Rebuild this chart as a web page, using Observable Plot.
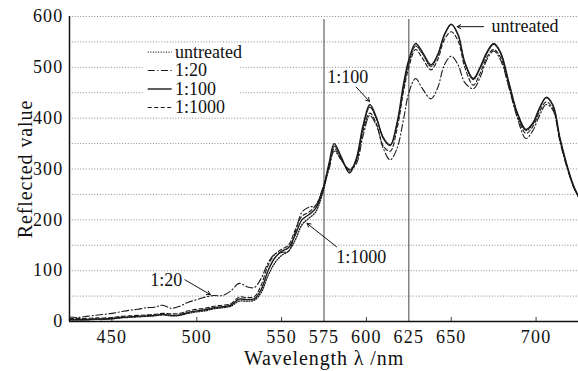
<!DOCTYPE html>
<html>
<head>
<meta charset="utf-8">
<script src="https://cdn.jsdelivr.net/npm/d3@7"></script>
<script src="https://cdn.jsdelivr.net/npm/@observablehq/plot@0.6"></script>
<style>
  html, body { margin: 0; padding: 0; background: #fff; }
</style>
</head>
<body>
<div id="chart"></div>
<script>
const wavelengths = [425,430,435,440,445,450,455,460,465,470,475,480,485,490,495,500,505,510,515,520,525,530,534,538,542,546,550,554,558,562,566,570,574,578,581,585,590,594,598,602,606,610,614,618,622,625,629,633,638,642,646,650,654,658,663,667,671,675,679,684,689,694,698,702,706,710,714,718,722,725];

const r100 = [4,4,4,5,5,6,8,9,10,11,12,14,12,13,18,21,23,27,29,32,44,43,45,63,100,125,138,145,170,200,210,222,255,312,350,325,292,320,385,427,400,360,346,390,470,515,547,530,505,525,565,585,565,510,478,500,530,547,530,470,410,378,390,420,441,425,362,310,268,246];

const untreated = [3,3,3,4,4,5,7,8,9,10,11,13,11,12,16,19,21,25,27,30,40,40,42,57,90,115,130,138,160,190,203,215,250,305,345,322,296,318,380,422,398,362,348,388,462,508,542,527,502,523,563,584,563,508,476,498,527,545,528,468,408,376,388,418,440,424,360,308,266,245];

const r20 = [9,8,10,12,14,16,19,22,24,27,28,32,26,30,38,43,48,51,51,60,75,68,67,85,115,133,136,138,175,215,225,228,260,300,335,320,298,310,365,405,385,340,318,340,400,450,478,458,438,460,505,522,505,470,458,480,515,532,515,460,400,360,375,405,427,415,355,305,265,245];

const r1000 = [6,6,6,7,7,8,10,11,12,13,14,16,15,16,21,24,26,30,32,35,48,47,49,72,110,132,142,150,180,207,215,228,258,308,340,318,300,315,375,410,388,345,335,378,455,500,535,518,495,515,555,570,552,500,465,488,520,535,520,462,405,370,383,412,432,418,358,307,266,245];

const seriesNames = ["untreated", "1:20", "1:100", "1:1000"];
const seriesValues = [untreated, r20, r100, r1000];
const seriesDash = ["1,1.6", "7,2.5,1.2,2.5", null, "4,2.5"];
const seriesWidth = [1.3, 1.1, 1.4, 1.1];

const yTicks = [0,100,200,300,400,500,600];
const gridValues = [50,100,150,200,250,300,350,400,450,500,550,600];
const xTicks = [450,500,550,575,600,625,650,700];
const xTickMarks = [450,500,550,600,650,700];
const markerLines = [575,625];

// annotations (data coordinates)
const annotations = [
  {label: "untreated", x: 693.5, y: 580, ax1: 669, ay1: 580, ax2: 653.5, ay2: 580},
  {label: "1:100", x: 589, y: 480, ax1: 594, ay1: 461, ax2: 601.8, ay2: 433},
  {label: "1:20", x: 482, y: 81, ax1: 493, ay1: 82, ax2: 508, ay2: 53},
  {label: "1:1000", x: 597, y: 126, ax1: 582.4, ay1: 147, ax2: 565, ay2: 193}
];

// legend layout in data units
const legendBox = {x1: 468.5, x2: 525.5, y1: 411, y2: 543};
const legendRowTop = 530, legendRowStep = 36.3;
const legendLineX1 = 471.4, legendLineX2 = 485.5, legendTextX = 487.2;

const tables = seriesValues.map((vals, i) =>
  wavelengths.map((w, j) => ({wl: w, v: vals[j], series: seriesNames[i]})));

const legendRows = seriesNames.map((name, i) => ({name, y: legendRowTop - i * legendRowStep, i}));

const lineMarks = tables.map((t, i) => Plot.line(t, {
  x: "wl", y: "v", curve: "catmull-rom", stroke: "#1a1a1a",
  strokeWidth: seriesWidth[i], strokeDasharray: seriesDash[i] || undefined
}));

const legendMarks = legendRows.map((r, i) => Plot.ruleY([r], {
  y: "y", x1: legendLineX1, x2: legendLineX2, stroke: "#1a1a1a",
  strokeWidth: seriesWidth[i], strokeDasharray: seriesDash[i] || undefined
}));

const SERIF = "'Liberation Serif', 'Times New Roman', serif";

const chart = Plot.plot({
  width: 578,
  height: 371,
  marginLeft: 69,
  marginRight: 0,
  marginTop: 16,
  marginBottom: 50,
  x: {domain: [425, 725]},
  y: {domain: [0, 600]},
  style: {fontFamily: SERIF, fontSize: "18px", color: "#111", background: "#fff", overflow: "visible"},
  marks: [
    Plot.ruleY(gridValues, {stroke: "#8a8a8a", strokeDasharray: "1,1.8", strokeWidth: 1}),
    Plot.rect([legendBox], {x1: "x1", x2: "x2", y1: "y1", y2: "y2", fill: "#fff"}),
    Plot.ruleX(markerLines, {y1: 0, y2: 594, stroke: "#555", strokeWidth: 1.1}),
    Plot.ruleX(xTickMarks, {y1: 0, y2: 8, stroke: "#444", strokeWidth: 1}),
    ...lineMarks,
    ...legendMarks,
    Plot.text(legendRows, {x: legendTextX, y: "y", text: "name", textAnchor: "start", fontSize: 18, fontFamily: SERIF, fill: "#111", ariaLabel: "legend text"}),
    Plot.text(annotations, {x: "x", y: "y", text: "label", textAnchor: "middle", fontSize: 18, fontFamily: SERIF, fill: "#111", ariaLabel: "annotation text"}),
    Plot.arrow(annotations, {x1: "ax1", y1: "ay1", x2: "ax2", y2: "ay2", stroke: "#111", strokeWidth: 1, headLength: 6, bend: false}),
    Plot.ruleX([425], {y1: 0, y2: 600, stroke: "#111", strokeWidth: 1.5}),
    Plot.ruleY([0], {stroke: "#111", strokeWidth: 1.6}),
    Plot.axisY({ticks: yTicks, tickSize: 0, tickPadding: 6, label: "Reflected value", labelAnchor: "center", labelArrow: "none", labelOffset: 52, fontSize: 18, fontFamily: SERIF}),
    Plot.axisX({ticks: xTicks, tickSize: 0, tickPadding: 9, tickFormat: d => String(d), label: "Wavelength λ /nm", labelAnchor: "center", labelArrow: "none", labelOffset: 43, fontSize: 18, fontFamily: SERIF})
  ]
});

// force the serif face everywhere and widen glyph spacing to match the reference's broad serif
const sel = d3.select(chart);
sel.selectAll("text").attr("font-family", SERIF).style("font-family", SERIF).style("font-variant", "normal");
sel.selectAll('g[aria-label="y-axis tick label"] text, g[aria-label="x-axis tick label"] text')
  .style("letter-spacing", "1.2px");
sel.selectAll('g[aria-label="legend text"] text, g[aria-label="annotation text"] text')
  .style("letter-spacing", "1.1px");
sel.selectAll('g[aria-label="y-axis label"] text, g[aria-label="x-axis label"] text')
  .style("font-size", "20px").style("letter-spacing", "0.9px");

document.getElementById("chart").appendChild(chart);
</script>
</body>
</html>
